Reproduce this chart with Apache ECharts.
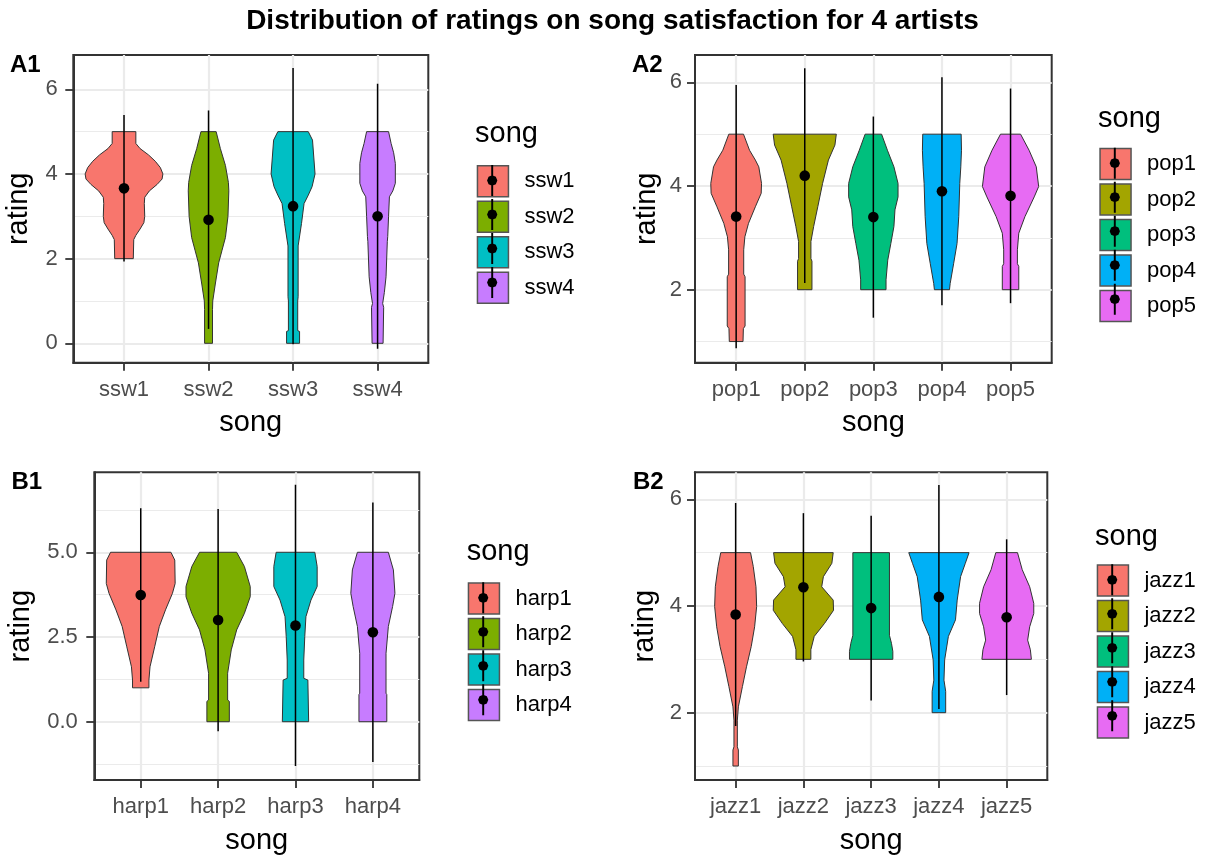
<!DOCTYPE html>
<html><head><meta charset="utf-8">
<script src="https://cdn.jsdelivr.net/npm/echarts@6/dist/echarts.min.js"></script>
<style>html,body{margin:0;padding:0;background:#fff}#main{width:1207px;height:858px}</style>
</head><body><div id="main"></div>
<script>
const FONT = '"Liberation Sans", Arial, Helvetica, sans-serif';
const mainTitle = 'Distribution of ratings on song satisfaction for 4 artists';

// ---------- Panel A1 ----------
const catsA1 = ['ssw1', 'ssw2', 'ssw3', 'ssw4'];
const meanA1 = [3.66, 2.92, 3.24, 3.00];
const sdA1 = [1.73, 2.58, 3.26, 3.13];
// violin outline: [rating, half width in category units]
const violinA1 = [
  [[5,0.14],[4.72,0.14],[4.6,0.19],[4.45,0.29],[4.3,0.37],[4.15,0.43],[4.0,0.46],[3.88,0.45],[3.75,0.39],[3.6,0.30],[3.45,0.245],[3.3,0.24],[3.0,0.245],[2.85,0.235],[2.7,0.19],[2.55,0.14],[2.45,0.115],[2.0,0.11]],
  [[5,0.09],[4.6,0.14],[4.2,0.2],[3.8,0.235],[3.6,0.24],[3.0,0.23],[2.5,0.2],[2.2,0.16],[1.9,0.12],[1.4,0.08],[1.0,0.05],[0.8,0.047],[0,0.047]],
  [[5,0.18],[4.8,0.23],[4.4,0.245],[4.0,0.26],[3.7,0.225],[3.5,0.18],[3.3,0.13],[2.83,0.1],[2.3,0.06],[1.1,0.06],[1.0,0.055],[0.3,0.055],[0.28,0.077],[0,0.077]],
  [[5,0.13],[4.72,0.16],[4.5,0.19],[4.25,0.21],[3.78,0.21],[3.6,0.18],[3.46,0.14],[3.0,0.13],[2.52,0.12],[2.4,0.115],[1.57,0.1],[1.2,0.08],[0.94,0.06],[0.85,0.072],[0,0.065]]
];
const yTicksA1 = [0, 2, 4, 6];
const yMinorA1 = [1, 3, 5];
const yRangeA1 = [-0.458, 6.81];

// ---------- Panel A2 ----------
const catsA2 = ['pop1', 'pop2', 'pop3', 'pop4', 'pop5'];
const meanA2 = [3.41, 4.20, 3.40, 3.90, 3.81];
const sdA2 = [2.54, 2.07, 1.94, 2.20, 2.07];
const violinA2 = [
  [[5,0.107],[4.69,0.195],[4.5,0.28],[4.37,0.33],[4.05,0.37],[3.86,0.365],[3.6,0.28],[3.28,0.18],[3.02,0.127],[2.77,0.11],[2.3,0.11],[2.25,0.13],[1.3,0.13],[1.25,0.105],[1.0,0.10]],
  [[5,0.46],[4.79,0.44],[4.5,0.345],[4.05,0.26],[3.6,0.19],[3.22,0.13],[2.93,0.09],[2.6,0.09],[2.55,0.105],[2.0,0.105]],
  [[5,0.12],[4.69,0.205],[4.37,0.30],[4.05,0.36],[3.79,0.36],[3.54,0.315],[3.22,0.30],[2.89,0.255],[2.57,0.21],[2.19,0.185],[2.0,0.185]],
  [[5,0.28],[4.69,0.285],[4.37,0.275],[4.05,0.26],[3.41,0.245],[2.89,0.22],[2.5,0.17],[2.12,0.12],[2.0,0.11]],
  [[5,0.146],[4.69,0.27],[4.37,0.375],[3.99,0.41],[3.79,0.345],[3.41,0.21],[3.09,0.12],[2.77,0.1],[2.5,0.1],[2.45,0.12],[2.0,0.12]]
];
const yTicksA2 = [2, 4, 6];
const yMinorA2 = [1, 3, 5];
const yRangeA2 = [0.592, 6.527];

// ---------- Panel B1 ----------
const catsB1 = ['harp1', 'harp2', 'harp3', 'harp4'];
const meanB1 = [3.74, 3.00, 2.84, 2.64];
const sdB1 = [2.56, 3.28, 4.15, 3.83];
const violinB1 = [
  [[5,0.39],[4.77,0.44],[4.08,0.445],[3.79,0.41],[3.3,0.32],[2.81,0.24],[2.21,0.18],[1.62,0.12],[1.23,0.106],[1.0,0.106]],
  [[5,0.24],[4.58,0.34],[3.99,0.415],[3.69,0.415],[3.2,0.34],[2.71,0.24],[2.12,0.17],[1.43,0.123],[0.64,0.123],[0.6,0.145],[0,0.145]],
  [[5,0.25],[4.58,0.28],[3.99,0.28],[3.59,0.2],[3.1,0.135],[2.51,0.12],[1.82,0.107],[1.28,0.107],[1.23,0.16],[0,0.17]],
  [[5,0.2],[4.48,0.265],[3.79,0.285],[3.4,0.255],[2.81,0.2],[2.02,0.17],[0.84,0.17],[0.8,0.18],[0,0.18]]
];
const yTicksB1 = [0, 2.5, 5];
const yMinorB1 = [-1.25, 1.25, 3.75, 6.25];
const yRangeB1 = [-1.72, 7.36];

// ---------- Panel B2 ----------
const catsB2 = ['jazz1', 'jazz2', 'jazz3', 'jazz4', 'jazz5'];
const meanB2 = [3.84, 4.35, 3.96, 4.17, 3.79];
const sdB2 = [2.09, 1.39, 1.73, 2.10, 1.46];
const violinB2 = [
  [[5,0.22],[4.74,0.26],[4.36,0.30],[3.99,0.31],[3.61,0.28],[3.24,0.23],[2.86,0.16],[2.49,0.1],[2.11,0.04],[1.86,0.025],[1.36,0.025],[1.3,0.04],[1.0,0.04]],
  [[5,0.44],[4.8,0.42],[4.55,0.295],[4.36,0.27],[4.11,0.44],[3.92,0.445],[3.67,0.31],[3.43,0.16],[3.18,0.11],[3.0,0.11]],
  [[5,0.27],[3.45,0.27],[3.3,0.3],[3.15,0.32],[3.0,0.32]],
  [[5,0.445],[4.8,0.39],[4.55,0.32],[4.11,0.27],[3.74,0.245],[3.43,0.14],[2.99,0.085],[2.61,0.075],[2.4,0.1],[2.0,0.1]],
  [[5,0.16],[4.68,0.23],[4.36,0.34],[4.05,0.40],[3.86,0.40],[3.61,0.34],[3.36,0.31],[3.18,0.35],[3.0,0.365]]
];
const yTicksB2 = [2, 4, 6];
const yMinorB2 = [1, 3, 5];
const yRangeB2 = [0.738, 6.506];

const colors4 = ['#F8766D', '#7CAE00', '#00BFC4', '#C77CFF'];
const colors5 = ['#F8766D', '#A3A500', '#00BF7D', '#00B0F6', '#E76BF3'];

// ---------- layout ----------
const panels = [
  {label:'A1', cats:catsA1, mean:meanA1, sd:sdA1, violin:violinA1, yTicks:yTicksA1, yMinor:yMinorA1, yRange:yRangeA1, colors:colors4, dec:0,
   box:[73.3,55,355,307.7], yNameGap:40, yLabelMargin:15.5, labelPos:[10,65.6], legendPos:[476.7,165], legendTitle:[475,133.5]},
  {label:'A2', cats:catsA2, mean:meanA2, sd:sdA2, violin:violinA2, yTicks:yTicksA2, yMinor:yMinorA2, yRange:yRangeA2, colors:colors5, dec:0,
   box:[695,55,356.7,307.7], yNameGap:34, yLabelMargin:13, labelPos:[632,65.6], legendPos:[1099.3,147.7], legendTitle:[1098,118.8]},
  {label:'B1', cats:catsB1, mean:meanB1, sd:sdB1, violin:violinB1, yTicks:yTicksB1, yMinor:yMinorB1, yRange:yRangeB1, colors:colors4, dec:1,
   box:[94.3,472.3,325,307.7], yNameGap:58.5, yLabelMargin:16.5, labelPos:[11.5,482.3], legendPos:[467.7,582.3], legendTitle:[466.7,552]},
  {label:'B2', cats:catsB2, mean:meanB2, sd:sdB2, violin:violinB2, yTicks:yTicksB2, yMinor:yMinorB2, yRange:yRangeB2, colors:colors5, dec:0,
   box:[695,472.3,352.3,307.7], yNameGap:36, yLabelMargin:13, labelPos:[633,482.3], legendPos:[1096.7,564.3], legendTitle:[1095,537]}
];

// key glyph: vertical line + point, with tiny corner specks so the path box is a full square
const KEY_ICON = 'path://M0,0L0.02,0L0,0.02Z M32,32L31.98,32L32,31.98Z M15,0L17,0L17,32L15,32Z M21.3,16L19.75,19.75L16,21.3L12.25,19.75L10.7,16L12.25,12.25L16,10.7L19.75,12.25Z';

function makeRender(profile) {
  return function (params, api) {
    const c = api.value(0), m = api.value(1), s = api.value(2);
    const left = profile.map(p => api.coord([c - p[1], p[0]]));
    const right = profile.slice().reverse().map(p => api.coord([c + p[1], p[0]]));
    const top = api.coord([c, m + s]);
    const bot = api.coord([c, m - s]);
    const mid = api.coord([c, m]);
    return {
      type: 'group',
      children: [
        {type: 'polygon', shape: {points: left.concat(right)}, style: {fill: api.visual('color'), stroke: '#333333', lineWidth: 1}},
        {type: 'line', shape: {x1: top[0], y1: top[1], x2: bot[0], y2: bot[1]}, style: {stroke: '#000', lineWidth: 1.5}},
        {type: 'circle', shape: {cx: mid[0], cy: mid[1], r: 5.3}, style: {fill: '#000'}}
      ]
    };
  };
}

const option = {
  animation: false,
  backgroundColor: '#ffffff',
  textStyle: {fontFamily: FONT},
  grid: [], xAxis: [], yAxis: [], legend: [], series: [],
  graphic: [{type: 'text', x: 612.5, y: 21, style: {text: mainTitle, align: 'center', verticalAlign: 'middle', font: 'bold 28px ' + FONT, fill: '#000'}}]
};

panels.forEach((p, i) => {
  const n = p.cats.length;
  const idx = [];
  for (let k = 1; k <= n; k++) idx.push(k);
  option.grid.push({left: p.box[0], top: p.box[1], width: p.box[2], height: p.box[3], show: true,
    borderColor: '#333333', borderWidth: 2, backgroundColor: '#fff'});
  option.xAxis.push({
    type: 'value', gridIndex: i, min: 0.4, max: n + 0.6, position: 'bottom',
    name: 'song', nameLocation: 'middle', nameGap: 46,
    nameTextStyle: {fontSize: 29, color: '#000', fontFamily: FONT},
    axisLine: {show: true, onZero: false, lineStyle: {color: '#333333', width: 2}},
    axisTick: {show: true, customValues: idx, length: 8, lineStyle: {color: '#333333', width: 1.8}},
    axisLabel: {customValues: idx, margin: 16, fontSize: 22, color: '#4D4D4D', fontFamily: FONT,
      formatter: v => p.cats[Math.round(v) - 1]},
    splitLine: {show: true, lineStyle: {color: '#EBEBEB', width: 2.2}}
  });
  // minor grid axis
  option.yAxis.push({
    type: 'value', gridIndex: i, min: p.yRange[0], max: p.yRange[1], position: 'left',
    axisLine: {show: false, onZero: false}, axisLabel: {show: false},
    axisTick: {show: false, customValues: p.yMinor},
    splitLine: {show: true, lineStyle: {color: '#EBEBEB', width: 1.2}}
  });
  // major axis
  option.yAxis.push({
    type: 'value', gridIndex: i, min: p.yRange[0], max: p.yRange[1], position: 'left', offset: 0,
    name: 'rating', nameLocation: 'middle', nameGap: p.yNameGap,
    nameTextStyle: {fontSize: 29, color: '#000', fontFamily: FONT},
    axisLine: {show: true, onZero: false, lineStyle: {color: '#333333', width: 2}},
    axisTick: {show: true, customValues: p.yTicks, length: 8, lineStyle: {color: '#333333', width: 1.8}},
    axisLabel: {customValues: p.yTicks, margin: p.yLabelMargin, fontSize: 22, color: '#4D4D4D', fontFamily: FONT,
      formatter: v => v.toFixed(p.dec)},
    splitLine: {show: true, lineStyle: {color: '#EBEBEB', width: 2.2}}
  });
  p.cats.forEach((c, k) => {
    option.series.push({
      type: 'custom', name: c, xAxisIndex: i, yAxisIndex: 2 * i + 1,
      itemStyle: {color: p.colors[k]},
      data: [[k + 1, p.mean[k], p.sd[k]]],
      renderItem: makeRender(p.violin[k]),
      z: 3
    });
  });
  const common = {orient: 'vertical', left: p.legendPos[0], top: p.legendPos[1], itemWidth: 31, itemHeight: 31,
    itemGap: 3, padding: 0, selectedMode: false};
  option.legend.push(Object.assign({}, common, {
    data: p.cats.map(c => ({name: c})), icon: 'rect',
    itemStyle: {borderColor: '#555555', borderWidth: 1.5},
    textStyle: {fontSize: 22, color: '#000', fontFamily: FONT, padding: [0, 0, 0, 11]}
  }));
  option.legend.push(Object.assign({}, common, {
    data: p.cats.map(c => ({name: c, icon: KEY_ICON, itemStyle: {color: '#000', borderWidth: 0}})),
    symbolKeepAspect: false,
    itemStyle: {color: '#000', borderWidth: 0},
    textStyle: {fontSize: 22, color: 'rgba(0,0,0,0)', fontFamily: FONT, padding: [0, 0, 0, 11]}
  }));
  option.graphic.push({type: 'text', x: p.labelPos[0], y: p.labelPos[1],
    style: {text: p.label, align: 'left', verticalAlign: 'middle', font: 'bold 24px ' + FONT, fill: '#000'}});
  option.graphic.push({type: 'text', x: p.legendTitle[0], y: p.legendTitle[1],
    style: {text: 'song', align: 'left', verticalAlign: 'middle', font: '29px ' + FONT, fill: '#000'}});
});

const chart = echarts.init(document.getElementById('main'), null, {renderer: 'canvas'});
chart.setOption(option);
</script>
</body></html>
